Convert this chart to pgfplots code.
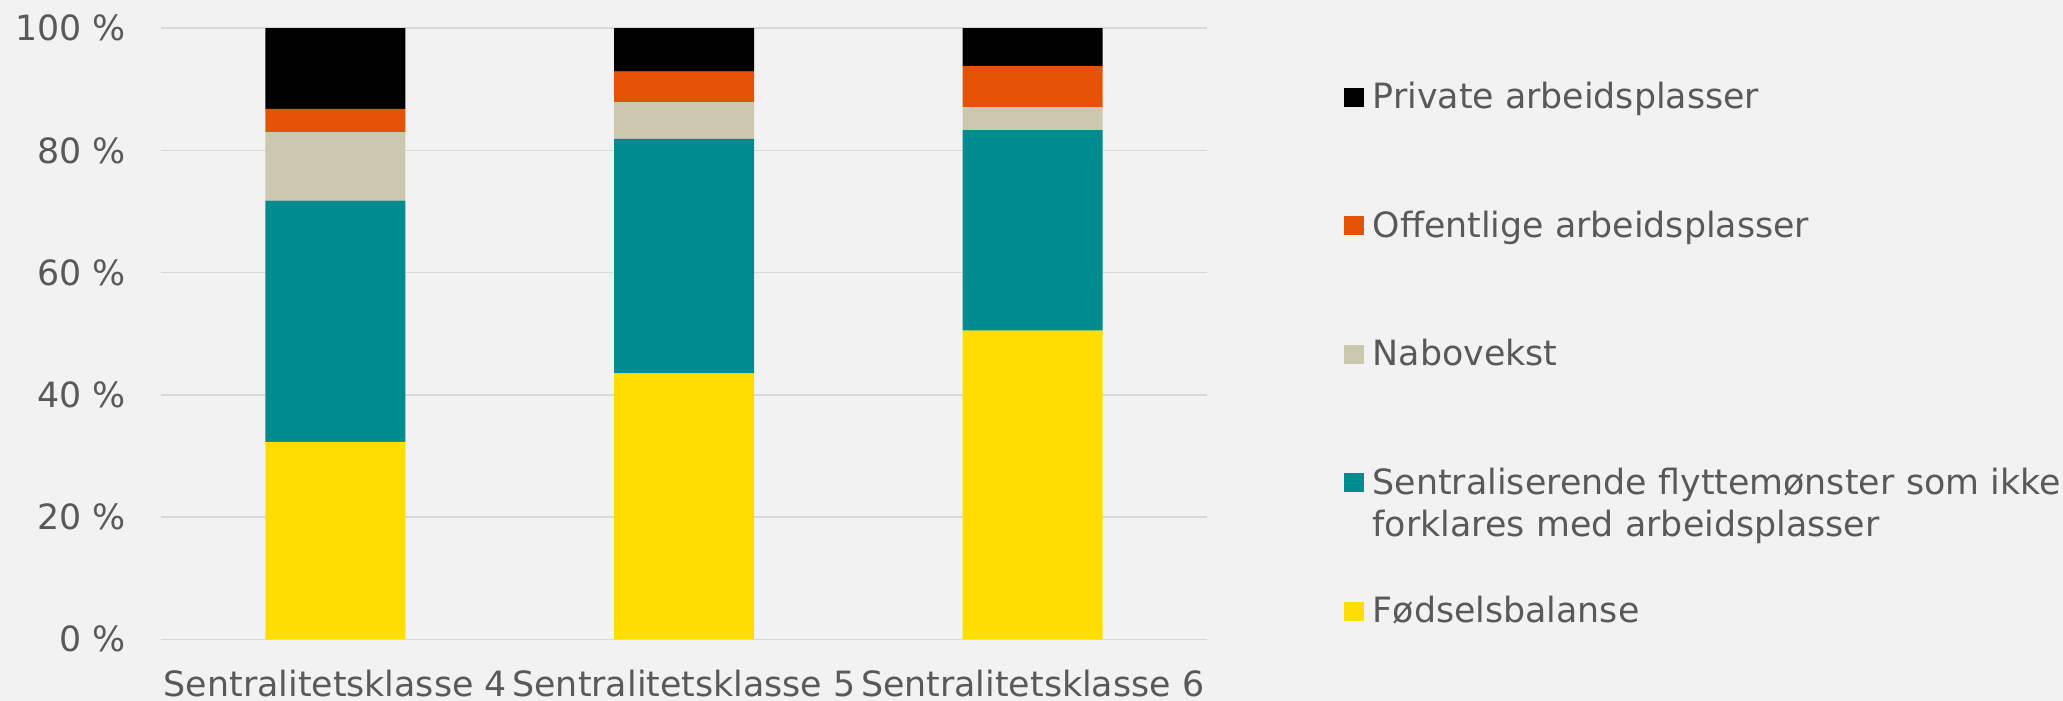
\documentclass[border=0pt]{standalone}
\usepackage{fontspec}
\setmainfont{DejaVu Sans}
\usepackage{pgfplots}
\usepackage{pgfplotstable}
\pgfplotsset{compat=1.18}
\definecolor{bg}{HTML}{F2F2F2}
\definecolor{txt}{HTML}{595959}
\definecolor{gridc}{HTML}{D9D9D9}
\definecolor{cYellow}{HTML}{FFDD00}
\definecolor{cTeal}{HTML}{008B8F}
\definecolor{cBeige}{HTML}{CCC8B0}
\definecolor{cOrange}{HTML}{E35205}
\definecolor{cBlack}{HTML}{000000}
\pgfplotstableread{
x  fods  sentral  nabo  off  priv
0  32.3  39.5     11.2  3.8  13.2
1  43.5  38.4     6.0   5.0  7.1
2  50.5  32.8     3.8   6.7  6.2
}\datatable
\pgfplotsset{legsq/.style={legend image code/.code={\draw[##1,draw=none] (0pt,-4.75pt) rectangle (10pt,4.75pt);}}}
\begin{document}
\begin{tikzpicture}
\fill[bg] (0,0) rectangle (1031.5pt,350.5pt);
\useasboundingbox (0,0) rectangle (1031.5pt,350.5pt);
\begin{axis}[
  at={(80.5pt,30.85pt)}, anchor=south west,
  scale only axis, width=523pt, height=305.55pt,
  ybar stacked, bar width=70pt,
  xmin=-0.5, xmax=2.5, ymin=0, ymax=100,
  xtick={0,1,2}, xticklabels={Sentralitetsklasse 4,Sentralitetsklasse 5,Sentralitetsklasse 6},
  ytick={0,20,40,60,80,100}, yticklabels={0 \%,20 \%,40 \%,60 \%,80 \%,100 \%},
  major tick length=0pt,
  axis line style={draw=none},
  ymajorgrids, grid style={draw=gridc, line width=0.75pt},
  tick label style={font=\fontsize{17.4}{20}\selectfont, text=txt},
  yticklabel style={anchor=east, inner sep=0pt, xshift=-17.5pt},
  xticklabel style={anchor=base, inner sep=0pt, yshift=-28.6pt},
  legend style={at={(1.13031,0.99296)}, anchor=north west, draw=none, fill=none,
    inner xsep=0pt, inner ysep=0pt,
    font=\fontsize{17.4}{21}\selectfont, text=txt, row sep=0pt, column sep=4.5pt,
    nodes={inner sep=0pt, text height=37.9pt, text depth=26.35pt}},
  legend cell align=left,
  reverse legend,
]
\addplot[fill=cYellow, draw=none, legsq] table[x=x, y=fods] {\datatable};
\addlegendentry{Fødselsbalanse}
\addplot[fill=cTeal, draw=none, legsq] table[x=x, y=sentral] {\datatable};
\addlegendentry[text width=360pt, align=left]{Sentraliserende flyttemønster som ikke\\forklares med arbeidsplasser}
\addplot[fill=cBeige, draw=none, legsq] table[x=x, y=nabo] {\datatable};
\addlegendentry{Nabovekst}
\addplot[fill=cOrange, draw=none, legsq] table[x=x, y=off] {\datatable};
\addlegendentry{Offentlige arbeidsplasser}
\addplot[fill=cBlack, draw=none, legsq] table[x=x, y=priv] {\datatable};
\addlegendentry{Private arbeidsplasser}
\end{axis}
\end{tikzpicture}
\end{document}
